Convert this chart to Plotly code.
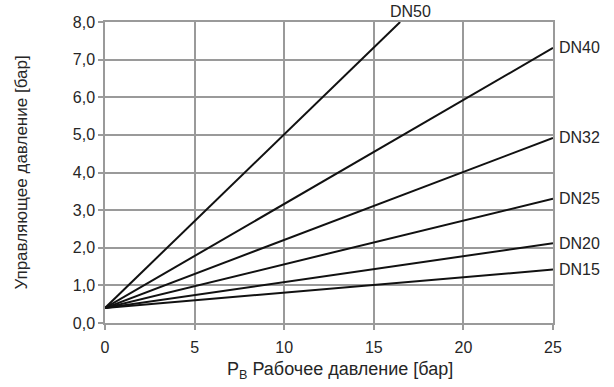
import plotly.graph_objects as go

names = ["DN50", "DN40", "DN32", "DN25", "DN20", "DN15"]
x_start = [0, 0, 0, 0, 0, 0]
y_start = [0.4, 0.4, 0.4, 0.4, 0.4, 0.4]
x_end = [16.47, 25, 25, 25, 25, 25]
y_end = [8.0, 7.31, 4.92, 3.3, 2.12, 1.42]

x_ticks = [0, 5, 10, 15, 20, 25]
y_ticks = [0, 1, 2, 3, 4, 5, 6, 7, 8]

TXT = "#262626"
fig = go.Figure()
for n, xs, ys, xe, ye in zip(names, x_start, y_start, x_end, y_end):
    fig.add_trace(go.Scatter(x=[xs, xe], y=[ys, ye], mode="lines",
                             line=dict(color="#111111", width=2), name=n,
                             showlegend=False, hoverinfo="skip"))
    if xe < 25:
        fig.add_annotation(x=xe, y=ye, text=n, showarrow=False,
                           xanchor="center", yanchor="bottom", xshift=10, yshift=0,
                           font=dict(size=16, color=TXT))
    else:
        fig.add_annotation(x=xe, y=ye, text=n, showarrow=False,
                           xanchor="left", yanchor="middle", xshift=4,
                           font=dict(size=16, color=TXT))

# x-axis title (slightly right of centre, as in the original)
fig.add_annotation(xref="paper", yref="paper", x=0.5, y=0, xshift=11, yshift=-47,
                   xanchor="center", yanchor="middle", showarrow=False,
                   text="P<sub>B</sub> Рабочее давление [бар]",
                   font=dict(size=18, color=TXT))

axis_common = dict(showgrid=True, gridcolor="#9a9a9a", gridwidth=1.5,
                   showline=True, linecolor="#9a9a9a", linewidth=1.5, mirror=True,
                   ticks="outside", ticklen=5, tickcolor="#9a9a9a", tickwidth=1.5,
                   zeroline=False, automargin=False,
                   tickfont=dict(size=16, color=TXT))

fig.update_xaxes(range=[0, 25], tickvals=x_ticks, ticklabelstandoff=4, **axis_common)
fig.update_yaxes(range=[0, 8], tickvals=y_ticks, tickformat=".1f",
                 title=dict(text="Управляющее давление [бар]",
                            font=dict(size=17, color=TXT), standoff=41),
                 **axis_common)

fig.update_layout(width=614, height=387,
                  margin=dict(l=105, r=61, t=22, b=64),
                  plot_bgcolor="white", paper_bgcolor="white",
                  separators=", ",
                  font=dict(family="Liberation Sans, Arial, sans-serif"))

fig.write_html("out.html", config={"displayModeBar": False},
               post_script="document.body.style.margin='0';document.body.style.overflow='hidden';")
